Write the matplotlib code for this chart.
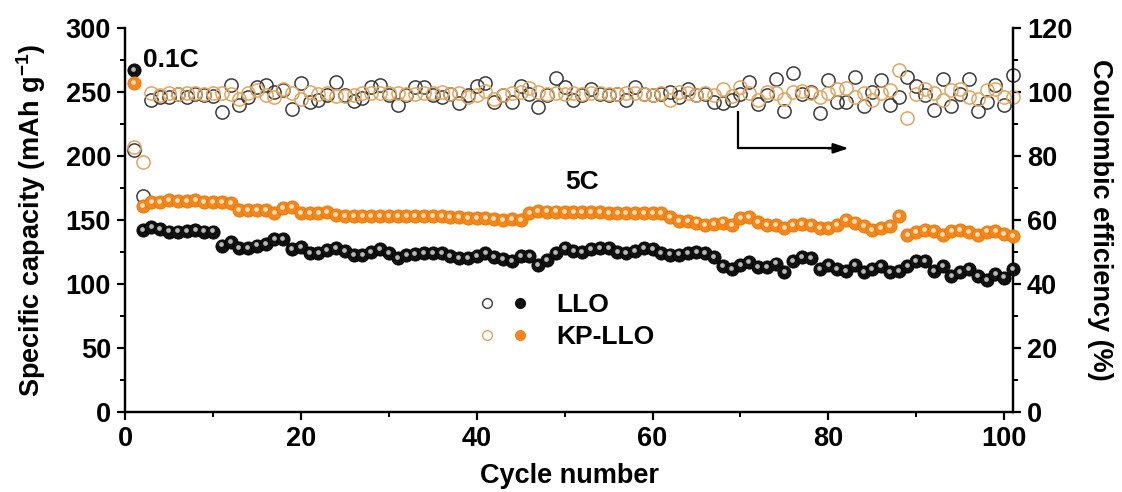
import numpy as np
import matplotlib
matplotlib.use('Agg')
from matplotlib import pyplot as plt
from matplotlib import transforms
from matplotlib.lines import Line2D
from matplotlib.legend_handler import HandlerTuple
from matplotlib.ticker import MultipleLocator

plt.rcParams['font.family'] = ['Liberation Sans', 'DejaVu Sans']
plt.rcParams['font.weight'] = 'bold'
plt.rcParams['mathtext.fontset'] = 'custom'
plt.rcParams['mathtext.rm'] = 'Liberation Sans:bold'
plt.rcParams['mathtext.bf'] = 'Liberation Sans:bold'
plt.rcParams['mathtext.default'] = 'bf'

# %% data

cycles = np.arange(1, 102)

llo_cap = [267,
           142, 144.5, 143, 141, 141, 141.5, 142, 141, 141,
           130, 133, 128, 128, 130, 131, 135, 135, 127, 129, 124, 124, 126.5,
           128, 126, 122.6, 122.6, 125, 127, 124, 120, 122.6, 123.7,
           124, 124, 124, 122, 120, 120, 122, 124, 121, 119.5, 118, 122, 122,
           115, 119, 124, 128, 126, 125, 127, 128, 128, 125, 124, 126, 128,
           127, 124, 123, 123, 124, 125,
           124, 121, 114, 112, 115, 117, 113, 113, 116, 109, 118, 121, 120.5,
           112, 115, 112, 110, 115, 109, 112, 114, 109, 110, 114, 118, 118,
           110, 114, 106, 109, 112, 106, 103, 108, 105, 112]

kp_cap = [257,
          161, 164, 164, 165.6, 165, 165, 165.6, 164, 164, 164, 163, 158, 158,
          158, 158, 155.6, 159, 160, 155.6, 155.6, 155.6, 156, 154, 153, 153,
          153, 153, 153, 153, 153, 153, 153,
          153, 153, 153, 152, 152, 151.6, 151.6, 151.6, 150.6, 150, 151, 150,
          155.6, 157, 156.6, 156.6, 156, 156, 156, 156, 156, 155.6, 155.6,
          155.6, 155.6, 155.6, 155.6, 155.6, 152, 149, 149, 148,
          146, 147, 148, 146, 151.5, 152, 148.6, 146, 146, 143.6, 146, 147,
          146, 143.6, 143.6, 146, 150, 148, 145, 142, 143.6, 145, 153, 138,
          140.6, 142, 141.7, 138, 141.7, 142, 140.6, 138, 141, 141.7, 139, 137.5]

llo_ce = [82, 67.5,
          97.5, 98.5, 98.5, 99.5, 98.5, 99.5, 99, 98.8, 93.8, 102.2, 96, 98.5,
          101.5, 102.2, 100, 100.5, 94.6, 102.7, 97, 97.5, 99, 103, 99, 97.1,
          98, 101.5, 102.2, 99, 96, 99, 101.5,
          101.5, 99, 98.5, 99.5, 96.7, 99, 102, 102.7, 97, 99, 97, 102, 99.5,
          95.4, 99, 104.3, 101.5, 97.5, 99, 101, 99.5, 99, 99.5, 97.5, 101.5,
          99.5, 99, 99.5, 100, 98.5, 101, 99, 99.5, 97,
          96.7, 97.5, 99.5, 103.2, 96.1, 99, 104, 94.2, 105.8, 99.5, 100, 93.5,
          103.6, 97, 97, 104.8, 95.5, 100, 103.6, 95.9, 98.5, 104.8, 102, 99,
          94.4, 104, 95.5, 99.5, 104, 94.2, 97, 102.2, 96, 105.3]

kp_ce = [82.8, 78,
         99.6, 99.1, 99.8, 99.3, 99.6, 99.6, 99.3, 99.6, 99.6, 99.3, 97.7,
         99.8, 100.6, 99.1, 98.5, 100.8, 99.6, 97.7, 100.1, 99.3, 99.6, 98.75,
         98.75, 99.1, 99.6, 99.8, 99.6, 99.8, 99.6, 99.3, 99.3,
         99.6, 99.6, 100.1, 99.3, 99.6, 98.5, 99.1, 100.4, 97.9, 99.1, 99.6,
         100.1, 101.4, 100.1, 99.4, 99.8, 99.4, 99.6, 99.4, 99.6, 99.6, 99.4,
         99.4, 99.6, 99.6, 99.4, 99.1, 99.6, 97.6, 100.1, 99.6, 99.1,
         99.6, 99.1, 100.9, 98.75, 101.7, 99.6, 97.6, 100.1, 99.6, 97.9,
         100.1, 100.4, 99.8, 98.5, 99.6, 100.9, 101.2, 98.5, 99.6, 97.6, 99.6,
         100.6, 106.9, 91.8, 99.4, 100.9, 99.6, 97.6, 100.6, 100.9, 98.5,
         97.9, 100.6, 100.9, 98.5, 98.5]

black = '#111111'
orange = '#f5861b'
open_black = '#3a3a3a'
open_orange = '#e3a45e'

# %% figure

fig = plt.figure(figsize=(11.22, 4.92), dpi=100)
ax = fig.add_axes([125 / 1122, 80 / 492, 888 / 1122, 384 / 492])
ax2 = ax.twinx()

# coulombic efficiency, open circles (right axis)
ax2.plot(cycles, llo_ce, 'o', ms=9.5, mfc='none', mec=open_black, mew=1.1,
         clip_on=False, zorder=2)
ax2.plot(cycles, kp_ce, 'o', ms=9.5, mfc='none', mec=open_orange, mew=1.1,
         clip_on=False, zorder=3)

# capacity, shiny filled spheres (left axis)
hl = transforms.offset_copy(ax.transData, fig=fig, x=-0.6, y=0.8, units='points')
ax.set_zorder(ax2.get_zorder() + 1)
ax.patch.set_visible(False)
ax.plot(cycles, llo_cap, 'o', ms=9.5, color=black, mec='#000000', mew=0.6,
        clip_on=False, zorder=4)
ax.plot(cycles, llo_cap, 'o', ms=3.4, color='#b8b8b8', mew=0, transform=hl,
        clip_on=False, zorder=5)
ax.plot(cycles, kp_cap, 'o', ms=9.5, color=orange, mec='#e67800', mew=0.6,
        clip_on=False, zorder=4)
ax.plot(cycles, kp_cap, 'o', ms=3.4, color='#fde2bd', mew=0, transform=hl,
        clip_on=False, zorder=5)

# %% axes

ax.set_xlim(0, 101)
ax.set_ylim(0, 300)
ax2.set_ylim(0, 120)
ax.xaxis.set_major_locator(MultipleLocator(20))
ax.xaxis.set_minor_locator(MultipleLocator(10))
ax.yaxis.set_major_locator(MultipleLocator(50))
ax.yaxis.set_minor_locator(MultipleLocator(25))
ax2.yaxis.set_major_locator(MultipleLocator(20))
ax2.yaxis.set_minor_locator(MultipleLocator(10))

for a in (ax, ax2):
    a.spines['top'].set_visible(False)
    for s in a.spines.values():
        s.set_linewidth(1.6)
    a.tick_params(which='major', direction='out', length=6, width=1.6,
                  labelsize=19.5, pad=4)
    a.tick_params(which='minor', direction='out', length=3.5, width=1.4)

ax.set_xlabel('Cycle number', fontsize=19.5, fontweight='bold', labelpad=8)
ax.set_ylabel('Specific capacity (mAh g$^{-1}$)', fontsize=19.5,
              fontweight='bold', labelpad=13)
ax2.set_ylabel('Coulombic efficiency (%)', fontsize=19.5, fontweight='bold',
               rotation=270, labelpad=29)

# annotations
ax.text(2.0, 275, '0.1C', fontsize=19, fontweight='bold', va='center')
ax.text(52, 180, '5C', fontsize=19, fontweight='bold', ha='center',
        va='center')
ax.plot([69.7, 69.7, 80.5], [234, 206, 206], color='black', lw=1.6,
        clip_on=False)
ax.annotate('', xy=(82.3, 206), xytext=(80, 206),
            arrowprops=dict(arrowstyle='-|>,head_length=0.9,head_width=0.3',
                            color='black', lw=1.6, shrinkA=0, shrinkB=0))

# legend
h_llo = (Line2D([], [], ls='none', marker='o', ms=7, mfc='none',
                mec=open_black, mew=1),
         Line2D([], [], ls='none', marker='o', ms=7, color=black))
h_kp = (Line2D([], [], ls='none', marker='o', ms=7, mfc='none',
               mec=open_orange, mew=1),
        Line2D([], [], ls='none', marker='o', ms=7, color=orange))
ax.legend([h_llo, h_kp], ['LLO', 'KP-LLO'],
          handler_map={tuple: HandlerTuple(ndivide=None, pad=0.5)},
          loc='upper left', bbox_to_anchor=(0.396, 0.310), frameon=False,
          borderpad=0, borderaxespad=0,
          prop={'size': 19, 'weight': 'bold'}, handlelength=2.0,
          handletextpad=1.0, labelspacing=0.3)

fig.savefig('out.png', dpi=100)
